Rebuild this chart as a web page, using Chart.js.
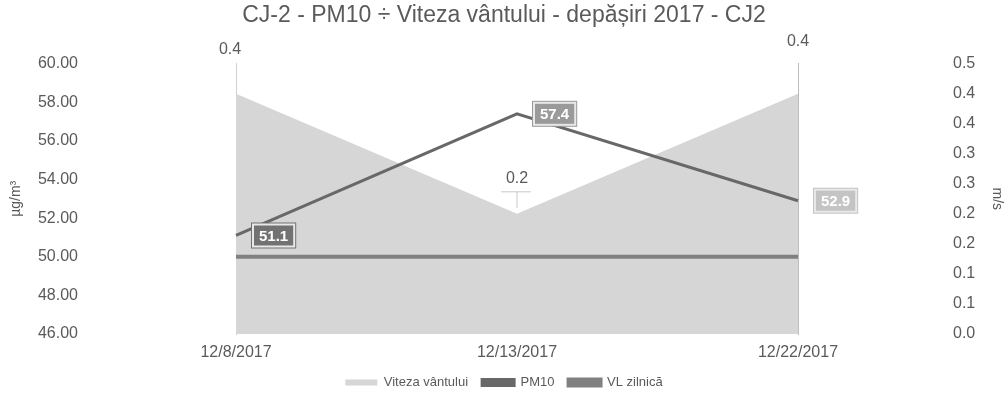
<!DOCTYPE html>
<html>
<head>
<meta charset="utf-8">
<script src="https://cdn.jsdelivr.net/npm/chart.js@4.4.0/dist/chart.umd.min.js"></script>
<style>
  html, body { margin: 0; padding: 0; background: #fff; }
  #wrap { width: 1008px; height: 403px; }
</style>
</head>
<body>
<div id="wrap"><canvas id="myChart"></canvas></div>
<script>
// date pe categorii
const labels = ["12/8/2017", "12/13/2017", "12/22/2017"];
const windSpeed = [0.4, 0.2, 0.4];     // m/s
const pm10 = [51.1, 57.4, 52.9];       // µg/m³
const dailyLimit = [50, 50, 50];       // VL zilnica
const pm10Ticks = [46, 48, 50, 52, 54, 56, 58, 60];
const windTicks = [0, 0.05, 0.1, 0.15, 0.2, 0.25, 0.3, 0.35, 0.4, 0.45];

const FONT = "'Liberation Sans', Arial, sans-serif";
const TXT = '#5a5a5a';

// etichete de valori (stil Excel)
const valueLabels = {
  id: 'valueLabels',
  afterDatasetsDraw(chart) {
    const ctx = chart.ctx;
    ctx.save();
    // viteza vantului
    const wDy = [-44, -35, -52];
    chart.getDatasetMeta(0).data.forEach((p, i) => {
      ctx.font = '16px ' + FONT;
      ctx.fillStyle = TXT;
      ctx.textAlign = 'center';
      ctx.textBaseline = 'middle';
      ctx.fillText(windSpeed[i].toFixed(1), p.x - (i === 0 ? 6 : 0), p.y + wDy[i]);
      if (i === 1) {
        ctx.strokeStyle = '#c8c8c8';
        ctx.lineWidth = 1;
        ctx.beginPath();
        ctx.moveTo(p.x - 16, p.y + wDy[i] + 13);
        ctx.lineTo(p.x + 14, p.y + wDy[i] + 13);
        ctx.moveTo(p.x, p.y + wDy[i] + 13);
        ctx.lineTo(p.x, p.y - 6);
        ctx.stroke();
      }
    });
    // PM10
    const boxFill = ['#727272', '#9a9a9a', '#c4c4c4'];
    chart.getDatasetMeta(1).data.forEach((p, i) => {
      const txt = pm10[i].toFixed(1);
      ctx.font = 'bold 15px ' + FONT;
      const w = ctx.measureText(txt).width + 16;
      const h = 26;
      const x = p.x + 15, y = p.y - h / 2;
      ctx.fillStyle = boxFill[i];
      ctx.fillRect(x, y, w, h);
      ctx.strokeStyle = '#e8e8e8';
      ctx.lineWidth = 2;
      ctx.strokeRect(x + 2, y + 2, w - 4, h - 4);
      ctx.fillStyle = '#ffffff';
      ctx.textAlign = 'center';
      ctx.textBaseline = 'middle';
      ctx.fillText(txt, x + w / 2, y + h / 2 + 1);
    });
    ctx.restore();
  }
};

// latime fixa a axelor (Excel lasa un gol mare intre etichete si grafic)
const fitAxis = w => s => { s.width = w; s.paddingTop = 8; s.paddingBottom = 8; };

const ctx = document.getElementById('myChart');
new Chart(ctx, {
  type: 'line',
  data: {
    labels: labels,
    datasets: [{
      label: 'Viteza vântului',
      data: windSpeed,
      yAxisID: 'y1',
      fill: 'origin',
      backgroundColor: '#d6d6d6',
      borderColor: '#d6d6d6',
      borderWidth: 0,
      pointRadius: 0,
      tension: 0,
      order: 3
    }, {
      label: 'PM10',
      data: pm10,
      yAxisID: 'y',
      borderColor: '#686868',
      backgroundColor: '#686868',
      borderWidth: 3,
      pointRadius: 0,
      tension: 0,
      order: 1
    }, {
      label: 'VL zilnică',
      data: dailyLimit,
      yAxisID: 'y',
      borderColor: '#808080',
      backgroundColor: '#808080',
      borderWidth: 4,
      pointRadius: 0,
      tension: 0,
      order: 2
    }]
  },
  options: {
    responsive: true,
    maintainAspectRatio: false,
    animation: false,
    layout: { padding: { left: 0, right: 0, top: 0, bottom: 4 } },
    plugins: {
      title: {
        display: true,
        text: 'CJ-2 - PM10 ÷ Viteza vântului - depășiri 2017 - CJ2',
        color: TXT,
        font: { family: FONT, size: 23, weight: 'normal' },
        padding: { top: 2, bottom: 34 }
      },
      legend: {
        position: 'bottom',
        labels: {
          color: TXT,
          font: { family: FONT, size: 13 },
          boxWidth: 32,
          boxHeight: 6,
          padding: 14,
          sort: (a, b) => a.datasetIndex - b.datasetIndex
        }
      },
      tooltip: { enabled: false }
    },
    scales: {
      x: {
        offset: false,
        afterFit: s => { s.height = 28; },
        grid: { display: false, drawTicks: false },
        border: { display: false },
        ticks: {
          color: TXT,
          font: { family: FONT, size: 16 },
          padding: 9,
          maxRotation: 0
        }
      },
      y: {
        position: 'left',
        min: 46,
        max: 60,
        afterBuildTicks: s => { s.ticks = pm10Ticks.map(v => ({ value: v })); },
        afterFit: fitAxis(236),
        grid: { display: false, drawTicks: false },
        border: { display: true, color: '#d0d0d0', dash: [2, 2] },
        ticks: {
          color: TXT,
          font: { family: FONT, size: 16 },
          padding: 158,
          callback: v => Number(v).toFixed(2)
        },
        title: {
          display: true,
          text: 'µg/m³',
          color: TXT,
          font: { family: FONT, size: 14 },
          padding: { top: 8, bottom: 0 }
        }
      },
      y1: {
        position: 'right',
        min: 0,
        max: 0.45,
        afterBuildTicks: s => { s.ticks = windTicks.map(v => ({ value: v })); },
        afterFit: fitAxis(210),
        grid: { display: false, drawTicks: false },
        border: { display: true, color: '#bdbdbd', dash: [2, 2] },
        ticks: {
          color: TXT,
          font: { family: FONT, size: 16 },
          padding: 155,
          callback: v => (Math.round(v * 10 + 1e-9) / 10).toFixed(1)
        },
        title: {
          display: true,
          text: 'm/s',
          color: TXT,
          font: { family: FONT, size: 14 },
          padding: { top: 3, bottom: 0 }
        }
      }
    }
  },
  plugins: [valueLabels]
});
</script>
</body>
</html>
